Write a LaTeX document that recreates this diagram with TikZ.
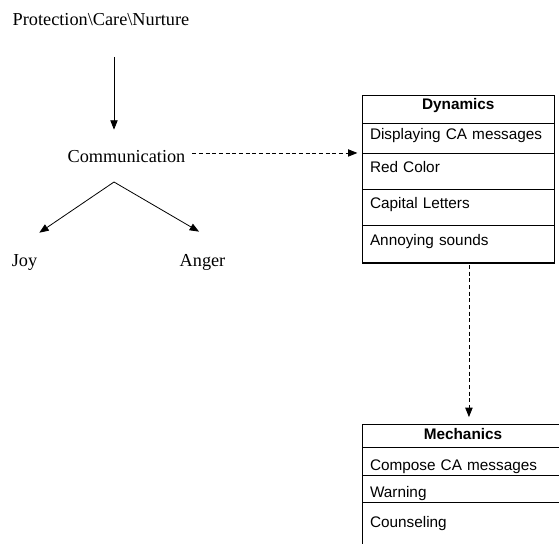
\documentclass[tikz,border=0pt]{standalone}
\usepackage{fontspec}
\setmainfont{Liberation Serif}
\setsansfont{Liberation Sans}
\usetikzlibrary{arrows.meta, positioning}
\tikzstyle{arrow} = [->,>={Triangle[length=7pt,width=5.5pt]},line width=0.6pt,draw=black]
\tikzstyle{dasharrow} = [arrow,dash pattern=on 3pt off 2pt]
\tikzstyle{word} = [inner sep=0pt,text height=10pt,text depth=3pt,font=\fontsize{13.7}{16}\selectfont]
\tikzset{
  cell/.style={draw=black,line width=0.6pt,inner xsep=6pt,inner ysep=0pt,outer sep=0pt,
    text width=132.4pt,align=left,minimum height=#1,text height=8.5pt,text depth=2.5pt,
    font=\sffamily\fontsize{11.5}{13}\selectfont},
  cellhead/.style={cell=#1,align=center,font=\sffamily\bfseries\fontsize{11.5}{13}\selectfont},
  wide/.style={text width=139.5pt},
  lifted/.style={text depth=#1},
  sunk/.style={text height=#1}
}

\begin{document}
\begin{tikzpicture}[x=0.75pt,y=-0.75pt]
    \useasboundingbox (0,0) rectangle (559,543);

    \node (prot) [word] at (101,21.3) {Protection\textbackslash Care\textbackslash Nurture};
    \node (comm) [word] at (126.5,158.3) {Communication};
    \node (joy) [word] at (24.5,262.3) {Joy};
    \node (anger) [word] at (202.5,262.3) {Anger};
    \coordinate (split) at (114,182);

    % dynamics table
    \node (dyn0) [cellhead=21pt,lifted=8.5pt,anchor=north west] at (362,95) {Dynamics};
    \node (dyn1) [cell=22.5pt,lifted=7pt,below=0pt of dyn0] {Displaying CA messages};
    \node (dyn2) [cell=27pt,lifted=7pt,below=0pt of dyn1] {Red Color};
    \node (dyn3) [cell=27pt,lifted=7pt,below=0pt of dyn2] {Capital Letters};
    \node (dyn4) [cell=28.5pt,lifted=7pt,below=0pt of dyn3] {Annoying sounds};
    \draw[line width=2.2pt] (dyn4.south west) -- (dyn4.south east);

    % mechanics table
    \node (mech0) [cellhead=16.9pt,wide,anchor=north west] at (362,424.5) {Mechanics};
    \node (mech1) [cell=21pt,wide,sunk=16pt,below=0pt of mech0] {Compose CA messages};
    \node (mech2) [cell=20.25pt,wide,sunk=16.5pt,below=0pt of mech1] {Warning};
    \node (mech3) [cell=31.5pt,wide,below=0pt of mech2] {Counseling};

    \coordinate (tap) at ([yshift=4pt]comm.east);
    \coordinate (drop) at ([xshift=8pt]dyn4.south);

    \draw[arrow,shorten <=20pt,shorten >=14.8pt] (prot.south -| split) -- (comm.north -| split);
    \draw[arrow] (split) -- ([xshift=1.4pt,yshift=15.5pt]joy.north east);
    \draw[arrow] (split) -- ([xshift=-2.6pt,yshift=16.3pt]anger.north);
    \draw[dasharrow,shorten <=5pt,shorten >=3.5pt] (tap) -- (tap -| dyn0.west);
    \draw[dasharrow,shorten <=1.5pt,shorten >=5.6pt] (drop) -- (drop |- mech0.north);

\end{tikzpicture}
\end{document}
